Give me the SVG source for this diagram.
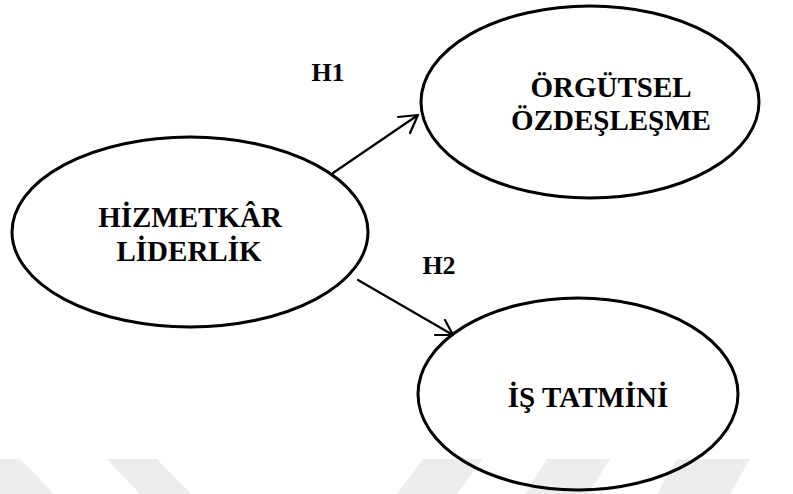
<svg xmlns="http://www.w3.org/2000/svg" width="793" height="494" viewBox="0 0 793 494">
<style>
.node ellipse{fill:none;stroke:#000;stroke-width:3}
.lbl{font-family:"Liberation Serif","Times New Roman",serif;font-weight:bold;font-size:29px;fill:#000;text-anchor:middle}
.h{font-size:26px}
.conn line,.conn path{stroke:#000;stroke-width:2.2;fill:none;stroke-linecap:round;stroke-linejoin:round}
.wm{fill:#ededed}
</style>
<rect width="793" height="494" fill="#fff"/>
<g id="watermark">
<polygon class="wm" points="0,459 20,459 54,494 0,494"/>
<polygon class="wm" points="107,459 157,459 191,494 140,494"/>
<polygon class="wm" points="423,459 483,459 457,494 397,494"/>
<polygon class="wm" points="547,459 610,459 588,494 525,494"/>
<polygon class="wm" points="677,459 750,459 730,494 657,494"/>
</g>
<g class="conn" id="connectors">
<line x1="333" y1="173" x2="418" y2="115"/>
<path d="M398,117 L418,115 L410,133"/>
<line x1="358" y1="280" x2="453" y2="335"/>
<path d="M445,320 L453,335 L435,335"/>
</g>
<g id="label-h1"><text class="lbl h" x="328" y="81">H1</text></g>
<g id="label-h2"><text class="lbl h" x="439" y="274">H2</text></g>
<g class="node" id="node-hizmetkar">
<ellipse cx="190" cy="232" rx="178" ry="95"/>
<text class="lbl" x="190" y="227">HİZMETKÂR</text>
<text class="lbl" x="189" y="261">LİDERLİK</text>
</g>
<g class="node" id="node-orgutsel">
<ellipse cx="590" cy="102" rx="169" ry="96"/>
<text class="lbl" x="611" y="97">ÖRGÜTSEL</text>
<text class="lbl" x="611" y="130">ÖZDEŞLEŞME</text>
</g>
<g class="node" id="node-is">
<ellipse cx="578" cy="394" rx="160" ry="96"/>
<text class="lbl" x="588" y="407">İŞ TATMİNİ</text>
</g>
</svg>
